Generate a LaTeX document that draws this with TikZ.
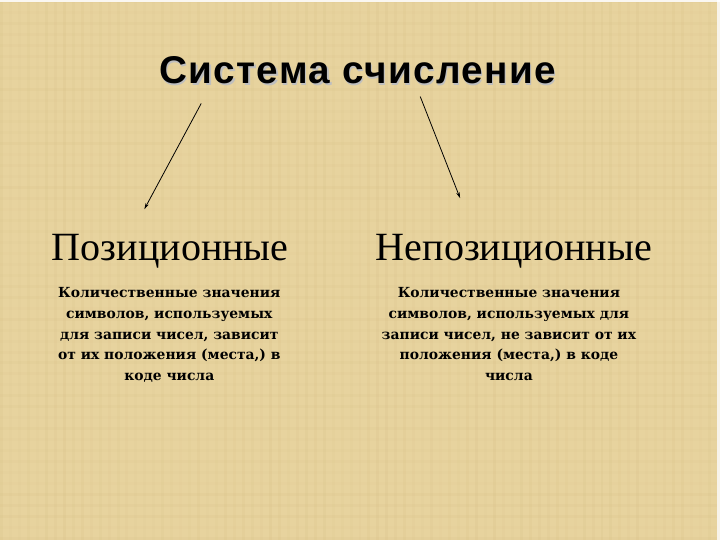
\documentclass[tikz,border=0pt]{standalone}
\usepackage{fontspec}
\setmainfont{Liberation Serif}
\newfontfamily\titlefont[LetterSpace=3.5]{Liberation Sans}
\newfontfamily\bodyfont{DejaVu Serif}
\usetikzlibrary{arrows.meta, positioning, calc}
\definecolor{parchment}{RGB}{231,211,158}
\definecolor{weave}{RGB}{214,190,132}

\begin{document}
\begin{tikzpicture}[x=1bp, y=1bp,
  heading/.style={anchor=base, font=\fontsize{40.4}{44}\selectfont},
  body/.style={anchor=base, align=center, font=\bodyfont\bfseries\fontsize{14}{20.8}\selectfont},
  link/.style={-{Stealth[length=6pt,width=3.5pt]}, line width=0.8pt}]
  % background
  \fill[parchment] (0,0) rectangle (720,540);
  \pgfmathsetseed{7}
  \foreach \x in {0,9,...,720} {
    \pgfmathsetmacro{\op}{0.05+0.15*rnd}
    \fill[weave, opacity=\op] (\x,0) rectangle ++(3,540);
  }
  \foreach \y in {0,11,...,540} {
    \pgfmathsetmacro{\op}{0.05+0.12*rnd}
    \fill[weave, opacity=\op] (0,\y) rectangle ++(720,3);
  }
  \useasboundingbox (0,0) rectangle (720,540);

  % title with shadow
  \node[anchor=base, text=black!25] at (360.5,456.5)
    {\titlefont\bfseries\fontsize{39}{44}\selectfont Система счисление};
  \node[anchor=base] (title) at (359,458)
    {\titlefont\bfseries\fontsize{39}{44}\selectfont Система счисление};

  % headings
  \node[heading] (pos) at (171,280) {Позиционные};
  \node[heading] (nonpos) at (516,280) {Непозиционные};

  % descriptions
  \node[body] (posText) at (170,160)
    {Количественные значения\\ символов, используемых\\ для записи чисел, зависит\\ от их положения (места,) в\\ коде числа};
  \node[body] (nonposText) at (511,160)
    {Количественные значения\\ символов, используемых для\\ записи чисел, не зависит от их\\ положения (места,) в коде\\ числа};

  % arrows
  \coordinate (posFrom) at (202,438);
  \coordinate (posTo) at (145,332);
  \coordinate (nonposFrom) at (422,445);
  \coordinate (nonposTo) at (462,343);
  \draw[link] (posFrom) -- (posTo);
  \draw[link] (nonposFrom) -- (nonposTo);
\end{tikzpicture}
\end{document}
